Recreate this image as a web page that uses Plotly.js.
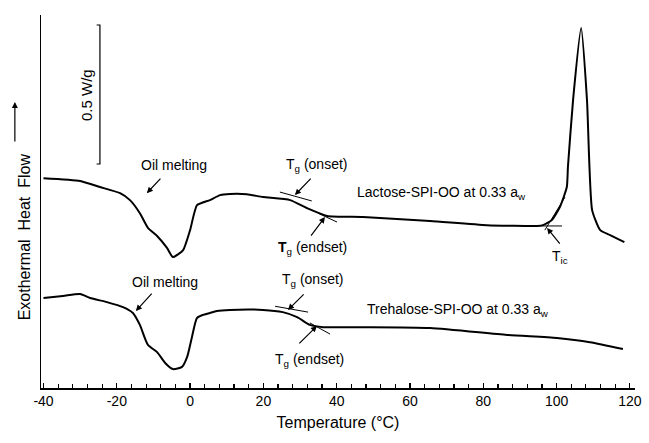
<!DOCTYPE html>
<html><head><meta charset="utf-8">
<script src="https://cdn.plot.ly/plotly-3.0.1.min.js"></script>
<style>html,body{margin:0;padding:0;background:#fff;}#chart{width:649px;height:443px;}</style>
</head><body><div id="chart"></div>
<script>
// Temperature (°C) and heat flow (W/g, arbitrary offset)
const lactoseT = [-40, -30.0, -24.6, -19.1, -16.4, -13.7, -11.5, -9.0, -6.3, -4.7, -1.9, 0.0, 1.9, 5.4, 8.2, 10.9, 15.5, 19.9, 27.3, 31.9, 37.4, 47.2, 65.5, 81.0, 94.7, 96.3, 98.7, 100.9, 102.8, 103.1, 104.5, 106.7, 108.3, 109.7, 111.9, 114.6, 118.5];
const lactoseY = [0.755, 0.745, 0.723, 0.701, 0.676, 0.629, 0.576, 0.547, 0.504, 0.471, 0.496, 0.568, 0.658, 0.676, 0.694, 0.698, 0.697, 0.687, 0.676, 0.647, 0.619, 0.615, 0.601, 0.586, 0.583, 0.586, 0.604, 0.651, 0.723, 0.795, 1.036, 1.295, 1.036, 0.640, 0.568, 0.550, 0.525];
const trehaloseT = [-40, -34.7, -30.0, -27.3, -22.7, -18.3, -15.6, -13.7, -11.5, -9.0, -6.8, -4.7, -2.2, -0.8, 0.5, 1.9, 3.5, 5.4, 7.3, 10.9, 19.9, 25.3, 29.2, 32.7, 36.3, 47.2, 65.5, 86.5, 100.1, 109.1, 118.1];
const trehaloseY = [0.324, 0.331, 0.338, 0.324, 0.309, 0.291, 0.270, 0.227, 0.155, 0.129, 0.090, 0.068, 0.076, 0.112, 0.183, 0.252, 0.263, 0.270, 0.277, 0.281, 0.281, 0.273, 0.255, 0.227, 0.219, 0.219, 0.216, 0.191, 0.180, 0.165, 0.140];

// tangent construction lines [T0, T1], [Y0, Y1]
const tangents = [
  {t: [24.5, 33.2], y: [0.705, 0.673]},   // lactose Tg onset
  {t: [34.9, 40.1], y: [0.629, 0.597]},   // lactose Tg endset
  {t: [23.2, 32.2], y: [0.294, 0.273]},   // trehalose Tg onset
  {t: [32.7, 38.2], y: [0.234, 0.194]},   // trehalose Tg endset
  {t: [94.7, 101.5], y: [0.583, 0.583]},  // Tic baseline
  {t: [96.8, 102.3], y: [0.568, 0.687]}   // Tic tangent
];

// scale bar (0.5 W/g)
const scaleT = [-25.5, -24.6, -24.6, -25.5];
const scaleY = [1.306, 1.306, 0.806, 0.806];

const xTickVals = [-40, -20, 0, 20, 40, 60, 80, 100, 120];
const xTickText = ['-40', '-20', '0', '20', '40', '60', '80', '100', '120'];

// labels: [text, T, Y, anchor]
const labels = [
  ['Oil melting', -4.4, 0.802, 'center'],
  ['Oil melting', -6.8, 0.381, 'center'],
  ['T<sub>g</sub> (onset)', 34.4, 0.802, 'center'],
  ['<b>T</b><sub>g</sub> (endset)', 33.3, 0.504, 'center'],
  ['T<sub>g</sub> (onset)', 33.3, 0.388, 'center'],
  ['T<sub>g</sub> (endset)', 32.7, 0.101, 'center'],
  ['T<sub>ic</sub>', 100.9, 0.471, 'center'],
  ['Lactose-SPI-OO at 0.33 a<sub>w</sub>', 45.0, 0.701, 'left'],
  ['Trehalose-SPI-OO at 0.33 a<sub>w</sub>', 47.7, 0.281, 'left']
];
// arrows: [headT, headY, tailT, tailY]
const arrows = [
  [-11.8, 0.701, -7.7, 0.759],
  [-14.8, 0.277, -10.1, 0.345],
  [28.6, 0.694, 33.3, 0.759],
  [36.8, 0.615, 32.7, 0.543],
  [26.7, 0.281, 31.4, 0.342],
  [34.6, 0.223, 29.4, 0.155],
  [97.4, 0.576, 101.2, 0.514]
];

const FONT = 'Liberation Sans, Arial, sans-serif';
const traces = [
  {x: lactoseT, y: lactoseY, mode: 'lines', line: {color: '#000', width: 2, shape: 'spline', smoothing: 0.5}, hoverinfo: 'skip'},
  {x: trehaloseT, y: trehaloseY, mode: 'lines', line: {color: '#000', width: 2, shape: 'spline', smoothing: 0.6}, hoverinfo: 'skip'},
  {x: scaleT, y: scaleY, mode: 'lines', line: {color: '#000', width: 1.2}, hoverinfo: 'skip'}
];
tangents.forEach(t => traces.push({x: t.t, y: t.y, mode: 'lines', line: {color: '#000', width: 1}, hoverinfo: 'skip'}));

const annotations = [];
labels.forEach(l => annotations.push({x: l[1], y: l[2], xref: 'x', yref: 'y', text: l[0], showarrow: false, xanchor: l[3], yanchor: 'middle', font: {family: FONT, size: 14, color: '#000'}}));
arrows.forEach(a => annotations.push({x: a[0], y: a[1], ax: a[2], ay: a[3], xref: 'x', yref: 'y', axref: 'x', ayref: 'y', text: '', showarrow: true, arrowhead: 2, arrowsize: 1, arrowwidth: 1.2, arrowcolor: '#000'}));
annotations.push({x: -28.4, y: 1.054, xref: 'x', yref: 'y', text: '0.5 W/g', textangle: -90, showarrow: false, font: {family: FONT, size: 15, color: '#000'}});
annotations.push({x: -0.044, y: 0.405, xref: 'paper', yref: 'paper', text: 'Exothermal  Heat  Flow', textangle: -90, showarrow: false, font: {family: FONT, size: 16, color: '#000'}});
annotations.push({x: -0.044, y: 0.767, ax: 0, ay: 41, xref: 'paper', yref: 'paper', text: '', showarrow: true, arrowhead: 2, arrowsize: 1, arrowwidth: 1.2, arrowcolor: '#000'});

const layout = {
  width: 649, height: 443,
  margin: {l: 41, r: 14, t: 15, b: 55},
  paper_bgcolor: '#fff', plot_bgcolor: '#fff',
  showlegend: false,
  xaxis: {
    range: [-40.68, 121.4], showgrid: false, zeroline: false,
    showline: true, linecolor: '#000', linewidth: 1.5,
    tickvals: xTickVals, ticktext: xTickText,
    ticks: 'inside', ticklen: 5, tickwidth: 1.2, tickcolor: '#000',
    minor: {dtick: 4, tick0: 0, ticks: 'inside', ticklen: 4, tickwidth: 1.2, tickcolor: '#000', showgrid: false},
    tickfont: {family: FONT, size: 14, color: '#000'},
    title: {text: 'Temperature (°C)', font: {family: FONT, size: 16, color: '#000'}, standoff: 8}
  },
  yaxis: {
    range: [0, 1.342], showgrid: false, zeroline: false,
    showline: true, linecolor: '#000', linewidth: 1.2,
    showticklabels: false, ticks: ''
  },
  annotations: annotations
};
Plotly.newPlot('chart', traces, layout, {staticPlot: true});
</script></body></html>
